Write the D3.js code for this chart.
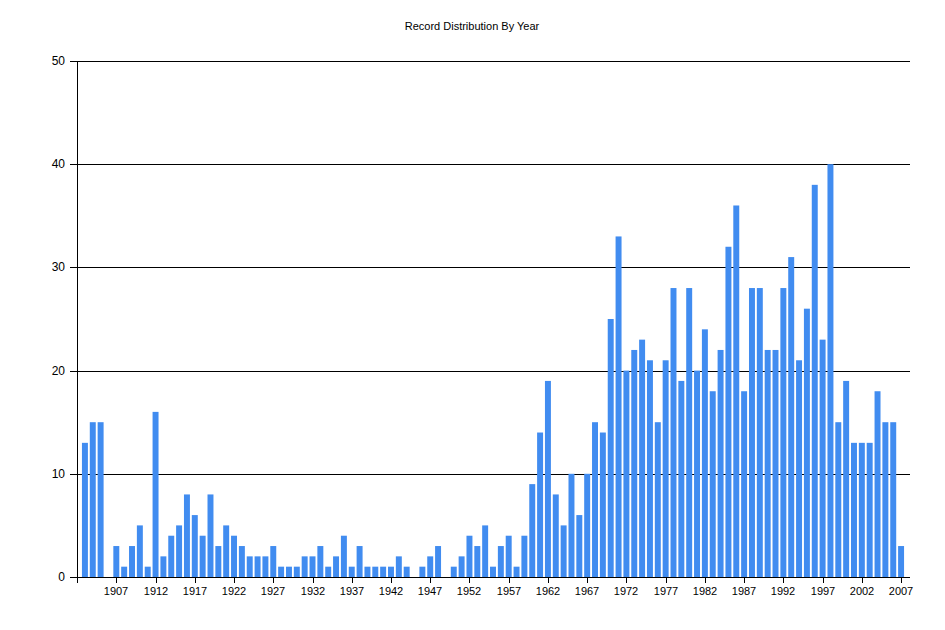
<!DOCTYPE html>
<html>
<head>
<meta charset="utf-8">
<script src="https://cdn.jsdelivr.net/npm/d3@7/dist/d3.min.js"></script>
<style>
  body { margin: 0; background: #fff; }
  text { font-family: "Liberation Sans", Arial, sans-serif; fill: #000; }
</style>
</head>
<body>
<div id="chart"></div>
<script>
// years 1903 - 2007
let years = d3.range(1903, 2008);
let counts = [
    13, 15, 15, 0, 3, 1, 3, 5, 1, 16,      // 1903-1912
    2, 4, 5, 8, 6, 4, 8, 3, 5, 4,           // 1913-1922
    3, 2, 2, 2, 3, 1, 1, 1, 2, 2,           // 1923-1932
    3, 1, 2, 4, 1, 3, 1, 1, 1, 1,           // 1933-1942
    2, 1, 0, 1, 2, 3, 0, 1, 2, 4,           // 1943-1952
    3, 5, 1, 3, 4, 1, 4, 9, 14, 19,         // 1953-1962
    8, 5, 10, 6, 10, 15, 14, 25, 33, 20,    // 1963-1972
    22, 23, 21, 15, 21, 28, 19, 28, 20, 24, // 1973-1982
    18, 22, 32, 36, 18, 28, 28, 22, 22, 28, // 1983-1992
    31, 21, 26, 38, 23, 40, 15, 19, 13, 13, // 1993-2002
    13, 18, 15, 15, 3                       // 2003-2007
];
let xTicks = d3.range(1907, 2008, 5);
let yTicks = [0, 10, 20, 30, 40, 50];

let width = 945;
let height = 630;
let plotLeft = 77, plotRight = 910, plotTop = 61, plotBottom = 577;

let svg = d3.select("#chart")
    .append("svg")
    .attr("width", width)
    .attr("height", height);

let x = d3.scaleBand()
    .domain(years)
    .range([81, 905])
    .paddingInner(0.24)
    .paddingOuter(0.12);

let y = d3.scaleLinear()
    .domain([0, 50])
    .range([plotBottom, plotTop]);

// title
svg.append("text")
    .attr("x", 472)
    .attr("y", 30)
    .attr("text-anchor", "middle")
    .style("font-size", "11px")
    .text("Record Distribution By Year");

// gridlines
svg.append("g")
    .selectAll("line")
    .data(yTicks)
    .enter().append("line")
    .attr("x1", plotLeft - 7)
    .attr("x2", plotRight)
    .attr("y1", d => Math.round(y(d)) + 0.5)
    .attr("y2", d => Math.round(y(d)) + 0.5)
    .attr("stroke", "#000")
    .attr("stroke-width", 1);

// bars
svg.append("g")
    .selectAll("rect")
    .data(counts)
    .enter().append("rect")
    .attr("x", (d, i) => x(years[i]))
    .attr("width", x.bandwidth())
    .attr("y", d => y(d))
    .attr("height", d => plotBottom - y(d))
    .attr("fill", "#418cf0");

// y axis line (runs a bit below the baseline, like a tick)
svg.append("line")
    .attr("x1", plotLeft + 0.5)
    .attr("x2", plotLeft + 0.5)
    .attr("y1", plotTop)
    .attr("y2", plotBottom + 6)
    .attr("stroke", "#000");

// y labels
svg.append("g")
    .selectAll("text")
    .data(yTicks)
    .enter().append("text")
    .attr("x", 65)
    .attr("y", d => y(d) + 4)
    .attr("text-anchor", "end")
    .style("font-size", "12px")
    .text(d => d);

// x ticks + labels
let xg = svg.append("g")
    .selectAll("g")
    .data(xTicks)
    .enter().append("g")
    .attr("transform", d => "translate(" + Math.round(x(d) + x.bandwidth() / 2) + ",0)");

xg.append("line")
    .attr("x1", 0.5)
    .attr("x2", 0.5)
    .attr("y1", plotBottom)
    .attr("y2", plotBottom + 6)
    .attr("stroke", "#000");

xg.append("text")
    .attr("y", plotBottom + 18)
    .attr("text-anchor", "middle")
    .style("font-size", "11px")
    .text(d => d);
</script>
</body>
</html>
